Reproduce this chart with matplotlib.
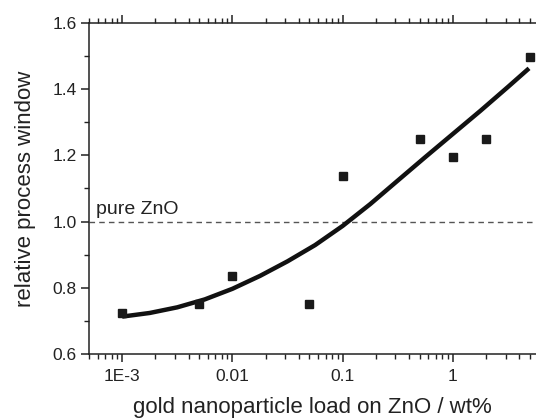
import matplotlib
matplotlib.use("Agg")
import matplotlib.pyplot as plt
import numpy as np
from matplotlib.ticker import LogLocator, FixedLocator, FixedFormatter, MultipleLocator

plt.rcParams['font.family'] = ['Liberation Sans', 'DejaVu Sans']

# measured process window vs. gold load
load = [0.001, 0.005, 0.01, 0.05, 0.1, 0.5, 1, 2, 5]
window = [0.723, 0.752, 0.835, 0.752, 1.139, 1.25, 1.195, 1.25, 1.498]

# fit curve
fit_x = [0.001, 0.00178, 0.00316, 0.00562, 0.01, 0.0178, 0.0316, 0.0562,
         0.1, 0.178, 0.316, 0.562, 1, 1.78, 3.16, 4.9]
fit_y = [0.713, 0.724, 0.741, 0.765, 0.797, 0.836, 0.880, 0.929,
         0.987, 1.053, 1.124, 1.195, 1.265, 1.335, 1.407, 1.463]

xticks = [0.001, 0.01, 0.1, 1]
xticklabels = ["1E-3", "0.01", "0.1", "1"]
pure_zno = 1.0

fig = plt.figure(figsize=(5.36, 4.19), dpi=100)
ax = fig.add_axes([89 / 536, 1 - 354 / 419, 1 - 89 / 536, (354 - 23) / 419])

ax.axhline(pure_zno, color="#555555", lw=1, ls=(0, (4, 3)))
ax.text(5.75e-4, 1.012, "pure ZnO", fontsize=14, va="bottom", ha="left", color="#222222")
ax.plot(fit_x, fit_y, color="#111111", lw=3.2, solid_capstyle="butt",
        solid_joinstyle="round", zorder=3)
ax.plot(load, window, ls="none", marker="s", ms=5.8, color="#1a1a1a", zorder=4)

ax.set_xscale("log")
ax.set_xlim(5.0e-4, 5.67)
ax.set_ylim(0.6, 1.6)

ax.xaxis.set_major_locator(FixedLocator(xticks))
ax.xaxis.set_major_formatter(FixedFormatter(xticklabels))
ax.xaxis.set_minor_locator(LogLocator(base=10, subs=np.arange(2, 10)))
ax.xaxis.set_minor_formatter(FixedFormatter([]))
ax.yaxis.set_major_locator(MultipleLocator(0.2))
ax.yaxis.set_minor_locator(MultipleLocator(0.1))
ax.yaxis.set_major_formatter(plt.FuncFormatter(lambda v, p: f"{v:.1f}"))

ax.spines["right"].set_visible(False)
for s in ["left", "bottom", "top"]:
    ax.spines[s].set_linewidth(1.1)
    ax.spines[s].set_color("#222222")

ax.tick_params(axis="x", which="both", direction="out", top=True, bottom=True,
               labelsize=12.5, colors="#222222", pad=5)
ax.tick_params(axis="y", which="both", direction="out", left=True, right=False,
               labelsize=12.5, colors="#222222", pad=3)
ax.tick_params(which="major", length=6, width=1.1)
ax.tick_params(which="minor", length=3.5, width=1.0)

ax.set_xlabel("gold nanoparticle load on ZnO / wt%", fontsize=16, color="#222222", labelpad=9)
ax.set_ylabel("relative process window", fontsize=16, color="#222222", labelpad=12)

fig.savefig("out.png", dpi=100)
